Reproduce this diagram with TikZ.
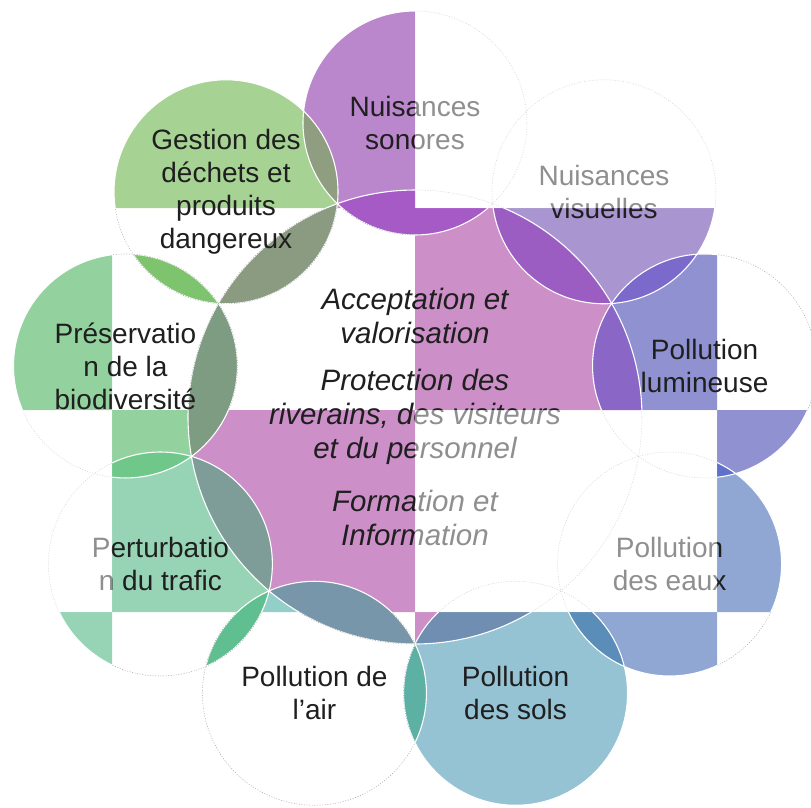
\documentclass[tikz,border=0pt]{standalone}
\usepackage{fontspec}
\setmainfont{Liberation Sans}
\definecolor{cC}{HTML}{CC8FC8}
\definecolor{cA}{HTML}{BA86CC}
\definecolor{cB}{HTML}{A6D394}
\definecolor{cD}{HTML}{93D29E}
\definecolor{cE}{HTML}{97D4B6}
\definecolor{cF}{HTML}{93CFC9}
\definecolor{cG}{HTML}{95C3D3}
\definecolor{cH}{HTML}{90A7D4}
\definecolor{cI}{HTML}{8F91D1}
\definecolor{cJ}{HTML}{A995D0}
\definecolor{LaC}{HTML}{A65AC6}
\definecolor{Lab}{HTML}{8F9E80}
\definecolor{LbC}{HTML}{8B9B82}
\definecolor{Lbd}{HTML}{7EC46E}
\definecolor{LdC}{HTML}{7E9C82}
\definecolor{Lde}{HTML}{6FC88A}
\definecolor{LeC}{HTML}{7E9C98}
\definecolor{Lef}{HTML}{60BF90}
\definecolor{LfC}{HTML}{7896AA}
\definecolor{Lfg}{HTML}{5CB1A4}
\definecolor{LgC}{HTML}{6F8EB1}
\definecolor{Lgh}{HTML}{5B8DB9}
\definecolor{LhC}{HTML}{7F86C0}
\definecolor{Lhi}{HTML}{5F72C9}
\definecolor{LiC}{HTML}{8A66C6}
\definecolor{Lij}{HTML}{7B69CC}
\definecolor{LjC}{HTML}{9B5DC1}
\definecolor{Lja}{HTML}{9C7BC8}
\begin{document}
\begin{tikzpicture}[x=1pt,y=-1pt,
  lbl/.style={align=center,text=black!88,font=\fontsize{28}{33}\selectfont},
  ctr/.style={align=center,text=black!88,font=\fontsize{29.5}{34}\selectfont\itshape},
  ring/.style={white,line width=1.1pt},
  faint/.style={black!35,line width=0.5pt,dash pattern=on 1pt off 1.6pt}]
\useasboundingbox (0,0) rectangle (811,807);
\coordinate (O) at (415,417);
\path (O) ++(90:294pt) coordinate (c1);
\path (O) ++(130:294pt) coordinate (c2);
\path (O) ++(170:294pt) coordinate (c3);
\path (O) ++(210:294pt) coordinate (c4);
\path (O) ++(250:294pt) coordinate (c5);
\path (O) ++(290:294pt) coordinate (c6);
\path (O) ++(330:294pt) coordinate (c7);
\path (O) ++(10:294pt) coordinate (c8);
\path (O) ++(50:294pt) coordinate (c9);
% base fills in coloured cells
\begin{scope}
\clip (112,-200) rectangle (415,208) (717,-200) rectangle (1020,208)
      (-200,208) rectangle (112,410) (415,208) rectangle (717,410)
      (112,410) rectangle (415,612) (717,410) rectangle (1020,612)
      (-200,612) rectangle (112,1000) (415,612) rectangle (717,1000);
\fill[cC] (O) circle (227pt);
\fill[cA] (c1) circle (112pt);
\fill[cB] (c2) circle (112pt);
\fill[cD] (c3) circle (112pt);
\fill[cE] (c4) circle (112pt);
\fill[cF] (c5) circle (112pt);
\fill[cG] (c6) circle (112pt);
\fill[cH] (c7) circle (112pt);
\fill[cI] (c8) circle (112pt);
\fill[cJ] (c9) circle (112pt);
\end{scope}
% overlaps
\begin{scope}
\clip (-200,208) rectangle (1020,410) (-200,612) rectangle (1020,1000)
      (112,-200) rectangle (415,1000) (717,-200) rectangle (1020,1000);
\foreach \p/\rp/\q/\rq/\col in {
  c1/112/O/227/LaC, c1/112/c2/112/Lab, c2/112/O/227/LbC, c2/112/c3/112/Lbd,
  c3/112/O/227/LdC, c3/112/c4/112/Lde, c4/112/O/227/LeC, c4/112/c5/112/Lef,
  c5/112/O/227/LfC, c5/112/c6/112/Lfg, c6/112/O/227/LgC, c6/112/c7/112/Lgh,
  c7/112/O/227/LhC, c7/112/c8/112/Lhi, c8/112/O/227/LiC, c8/112/c9/112/Lij,
  c9/112/O/227/LjC, c9/112/c1/112/Lja}{
  \begin{scope}
  \clip (\p) circle (\rp pt);
  \fill[\col] (\q) circle (\rq pt);
  \end{scope}
}
\end{scope}
% outlines
\foreach \k/\r in {O/227,c1/112,c2/112,c3/112,c4/112,c5/112,c6/112,c7/112,c8/112,c9/112}
  \draw[ring] (\k) circle (\r pt);
\begin{scope}
\clip (-200,-200) rectangle (112,208) (415,-200) rectangle (717,208)
      (112,208) rectangle (415,410) (717,208) rectangle (1020,410)
      (-200,410) rectangle (112,612) (415,410) rectangle (717,612)
      (112,612) rectangle (415,1000) (717,612) rectangle (1020,1000);
\foreach \k/\r in {O/227,c1/112,c2/112,c3/112,c4/112,c5/112,c6/112,c7/112,c8/112,c9/112}
  \draw[faint] (\k) circle (\r pt);
\end{scope}
% texts
\node[lbl] (t1) at (c1) {Nuisances\\sonores};
\node[lbl] (t2) at (c2) {Gestion des\\déchets et\\produits\\dangereux};
\node[lbl] (t3) at (c3) {Préservatio\\n de la\\biodiversité};
\node[lbl] (t4) at (c4) {Perturbatio\\n du trafic};
\node[lbl] (t5) at (c5) {Pollution de\\l’air};
\node[lbl] (t6) at (c6) {Pollution\\des sols};
\node[lbl] (t7) at (c7) {Pollution\\des eaux};
\node[lbl] (t8) at (c8) {Pollution\\lumineuse};
\node[lbl] (t9) at (c9) {Nuisances\\visuelles};
\node[ctr] (m1) at (415,316) {Acceptation et\\valorisation};
\node[ctr] (m2) at (415,417) {Protection des\\riverains, des visiteurs\\et du personnel};
\node[ctr] (m3) at (415,518) {Formation et\\Information};
% washed-out cells
\fill[white,opacity=0.5] (-200,-200) rectangle (112,208) (415,-200) rectangle (717,208)
      (-200,410) rectangle (112,612) (415,410) rectangle (717,612);
\end{tikzpicture}
\end{document}
